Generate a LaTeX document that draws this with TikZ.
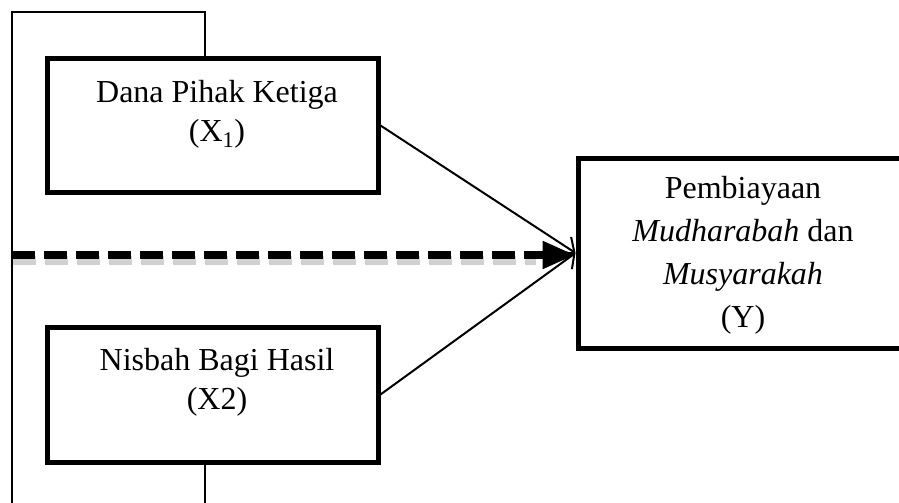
\documentclass[tikz,border=0pt]{standalone}
\usepackage{fontspec}
\setmainfont{Liberation Serif}
\usetikzlibrary{arrows.meta}
\begin{document}
\begin{tikzpicture}[x=1pt,y=-1pt,
  boxnode/.style={draw=black, line width=5pt, rectangle, inner sep=0pt},
  txt/.style={align=center, inner sep=0pt, font=\fontsize{32}{39}\selectfont},
  txty/.style={align=center, inner sep=0pt, font=\fontsize{32}{43}\selectfont},
  frameline/.style={draw=black, line width=1.3pt},
  thinarrow/.style={draw=black, line width=2pt, -{Straight Barb[length=11pt,width=22pt,line width=2pt]}},
  dasharrow/.style={draw=black, line width=8pt, dash pattern=on 23pt off 9pt, -{Triangle[length=33pt,width=26pt]}},
  dashshadow/.style={draw=black!18, line width=9pt, dash pattern=on 23pt off 9pt}
]
\useasboundingbox (0,0) rectangle (899,503);
\clip (0,0) rectangle (899,503);
% boxes
\node[boxnode, minimum width=331pt, minimum height=133pt] (x1) at (212.5,125.5) {};
\node[boxnode, minimum width=331pt, minimum height=135pt] (x2) at (212.5,394.5) {};
\node[boxnode, minimum width=330pt, minimum height=190pt] (yb) at (743,253) {};
% texts
\node[txt, anchor=north] (t1) at (217,80) {Dana Pihak Ketiga\\(X\textsubscript{1})};
\node[txt, anchor=north] (t2) at (217,348) {Nisbah Bagi Hasil\\(X2)};
\node[txty, anchor=north] (ty) at (743,176) {Pembiayaan\\\textit{Mudharabah} dan\\\textit{Musyarakah}\\(Y)};
% outer frame
\coordinate (fbl) at (12,510);
\coordinate (ftl) at (12,12);
\coordinate (ftr) at (205,12);
\coordinate (fbr) at (205,510);
\draw[frameline] (fbl) -- (ftl) -- (ftr) -- (ftr |- x1.north);
\draw[frameline] (fbr |- x2.south) -- (fbr);
% dashed arrow
\coordinate (ds) at (12,255);
\draw[dashshadow] ([shift={(1,5)}]ds) -- ([shift={(-40,5)}]yb.west |- ds);
\draw[dasharrow] (ds) -- (yb.west |- ds);
% thin arrows
\draw[thinarrow] (x1.east) -- (yb.west);
\draw[thinarrow] (x2.east) -- (yb.west);
\end{tikzpicture}
\end{document}
